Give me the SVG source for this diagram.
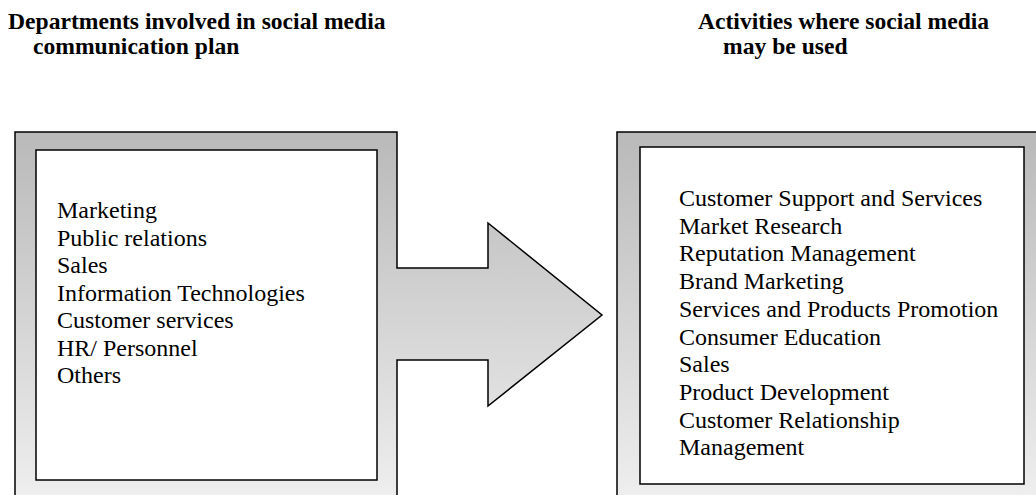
<svg xmlns="http://www.w3.org/2000/svg" width="1036" height="495" viewBox="0 0 1036 495">
  <defs>
    <linearGradient id="g" gradientUnits="userSpaceOnUse" x1="0" y1="132" x2="0" y2="495">
      <stop offset="0" stop-color="#b9b9b9"/>
      <stop offset="1" stop-color="#eeeeee"/>
    </linearGradient>
  </defs>
  <style>
    .outer { fill: url(#g); stroke: #000; stroke-width: 1.5; stroke-linejoin: miter; }
    .inner { fill: #fff; stroke: #000; stroke-width: 1.5; }
    .hdr { font-family: "Liberation Serif", "Times New Roman", serif; font-weight: bold; font-size: 23.6px; fill: #000; }
    .item { font-family: "Liberation Serif", "Times New Roman", serif; font-size: 24px; fill: #000; }
  </style>
  <rect width="1036" height="495" fill="#fff"/>

  <g id="header-left">
    <text class="hdr" x="8" y="29">Departments involved in social media</text>
    <text class="hdr" x="33" y="54">communication plan</text>
  </g>
  <g id="header-right">
    <text class="hdr" x="698" y="29">Activities where social media</text>
    <text class="hdr" x="723" y="54">may be used</text>
  </g>

  <g id="connectors">
    <path class="outer" d="M15,132 H397 V268 H488 V223 L602,315 L488,406 V360 H397 V510 H15 Z"/>
  </g>

  <g id="departments">
    <rect class="inner" x="36" y="150" width="341" height="330"/>
    <text class="item" x="57" y="218">Marketing</text>
    <text class="item" x="57" y="245.5">Public relations</text>
    <text class="item" x="57" y="273">Sales</text>
    <text class="item" x="57" y="300.5">Information Technologies</text>
    <text class="item" x="57" y="328">Customer services</text>
    <text class="item" x="57" y="355.5">HR/ Personnel</text>
    <text class="item" x="57" y="383">Others</text>
  </g>

  <g id="activities">
    <rect class="outer" x="617" y="132" width="440" height="390"/>
    <rect class="inner" x="640" y="147" width="384" height="337"/>
    <text class="item" x="679" y="206">Customer Support and Services</text>
    <text class="item" x="679" y="233.7">Market Research</text>
    <text class="item" x="679" y="261.4">Reputation Management</text>
    <text class="item" x="679" y="289.1">Brand Marketing</text>
    <text class="item" x="679" y="316.8">Services and Products Promotion</text>
    <text class="item" x="679" y="344.5">Consumer Education</text>
    <text class="item" x="679" y="372.2">Sales</text>
    <text class="item" x="679" y="399.9">Product Development</text>
    <text class="item" x="679" y="427.6">Customer Relationship</text>
    <text class="item" x="679" y="455.3">Management</text>
  </g>
</svg>
